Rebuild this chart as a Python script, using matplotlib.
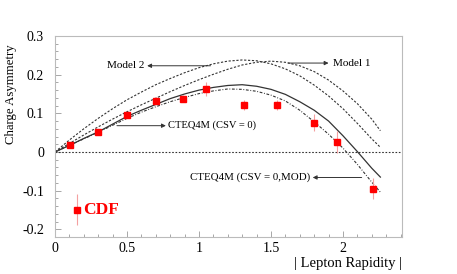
import numpy as np
import matplotlib
matplotlib.use('Agg')
import matplotlib.pyplot as plt
from matplotlib.ticker import MultipleLocator

plt.rcParams['font.family'] = ['Liberation Serif', 'DejaVu Serif']

# CDF data
cdf_x = [0.106, 0.30, 0.50, 0.70, 0.89, 1.05, 1.31, 1.54, 1.80, 1.956, 2.21]
cdf_y = [0.019, 0.052, 0.096, 0.133, 0.138, 0.163, 0.122, 0.122, 0.076, 0.026, -0.095]
cdf_err = [0.008, 0.007, 0.007, 0.008, 0.010, 0.017, 0.013, 0.013, 0.021, 0.028, 0.027]

# theory curves
curve_x = [0, 0.1, 0.2, 0.3, 0.4, 0.5, 0.6, 0.7, 0.8, 0.9, 1.0, 1.1, 1.2,
           1.3, 1.4, 1.5, 1.6, 1.7, 1.8, 1.9, 2.0, 2.1, 2.2, 2.26]
cteq = [0, 0.017, 0.035, 0.052, 0.072, 0.092, 0.108, 0.123, 0.138, 0.150,
        0.160, 0.167, 0.172, 0.174, 0.170, 0.162, 0.149, 0.130, 0.108, 0.080,
        0.042, 0.001, -0.042, -0.065]
cteq_mod = [0, 0.017, 0.034, 0.051, 0.069, 0.087, 0.103, 0.117, 0.130, 0.141,
            0.151, 0.158, 0.163, 0.162, 0.157, 0.147, 0.132, 0.108, 0.078, 0.046,
            0.010, -0.032, -0.078, -0.104]
model1 = [0, 0.022, 0.044, 0.065, 0.085, 0.104, 0.122, 0.139, 0.156, 0.172,
          0.187, 0.201, 0.214, 0.225, 0.232, 0.235, 0.232, 0.223, 0.208, 0.186,
          0.158, 0.125, 0.085, 0.055]
model2 = [0, 0.031, 0.060, 0.087, 0.112, 0.135, 0.155, 0.174, 0.190, 0.205,
          0.218, 0.228, 0.235, 0.238, 0.236, 0.228, 0.215, 0.197, 0.173, 0.145,
          0.112, 0.074, 0.034, 0.012]

y_ticks = [0.3, 0.2, 0.1, 0, -0.1, -0.2]
y_labels = ['0.3', '0.2', '0.1', '0', '-0.1', '-0.2']
x_ticks = [0, 0.5, 1, 1.5, 2]
x_labels = ['0', '0.5', '1', '1.5', '2']


def draw():
    fig = plt.figure(figsize=(4.57, 2.74), dpi=100)
    ax = fig.add_axes([0.1204, 0.135, 0.7592, 0.7336])
    lc = '#333333'

    ax.axhline(0, color=lc, lw=0.8, ls=(0, (1.5, 1.5)))
    ax.plot(curve_x, model1, color=lc, lw=0.8, ls=(0, (2, 1.5)))
    ax.plot(curve_x, model2, color=lc, lw=0.8, ls=(0, (2, 1.5)))
    ax.plot(curve_x, cteq, color=lc, lw=0.9)
    ax.plot(curve_x, cteq_mod, color=lc, lw=0.8, ls=(0, (2.5, 1.5, 0.8, 1.5)))

    ax.errorbar(cdf_x, cdf_y, yerr=cdf_err, fmt='s', color='red', ms=4,
                ecolor='#f4a0a0', elinewidth=0.8, capsize=0)
    # legend entry
    ax.errorbar([0.15], [-0.15], yerr=[0.04], fmt='s', color='red', ms=4,
                ecolor='#f4a0a0', elinewidth=0.8, capsize=0)
    ax.text(0.195, -0.15, 'CDF', color='red', fontsize=12.5, fontweight='bold',
            va='center', ha='left')

    ap = dict(arrowstyle='-|>', lw=0.7, color=lc, mutation_scale=6,
              shrinkA=0, shrinkB=0)
    ax.annotate('', xy=(0.64, 0.223), xytext=(1.08, 0.223), arrowprops=ap)
    ax.text(0.36, 0.223, 'Model 2', fontsize=8, va='center', ha='left')
    ax.annotate('', xy=(1.9, 0.23), xytext=(1.62, 0.23), arrowprops=ap)
    ax.text(1.93, 0.23, 'Model 1', fontsize=8, va='center', ha='left')
    ax.annotate('', xy=(0.77, 0.068), xytext=(0.43, 0.068), arrowprops=ap)
    ax.text(0.785, 0.068, 'CTEQ4M (CSV = 0)', fontsize=7.6, va='center', ha='left')
    ax.annotate('', xy=(1.79, -0.066), xytext=(2.13, -0.066), arrowprops=ap)
    ax.text(1.77, -0.066, 'CTEQ4M (CSV = 0,MOD)', fontsize=7.8, va='center', ha='right')

    ax.set_xlim(0, 2.41)
    ax.set_ylim(-0.22, 0.3)
    ax.set_xticks(x_ticks)
    ax.set_xticklabels(x_labels)
    ax.set_yticks(y_ticks)
    ax.set_yticklabels(y_labels)
    ax.xaxis.set_minor_locator(MultipleLocator(0.1))
    ax.yaxis.set_minor_locator(MultipleLocator(0.02))
    ax.tick_params(which='both', direction='in', color='#999999', labelsize=10,
                   top=False, right=False)
    ax.tick_params(which='major', length=4, width=0.6)
    ax.tick_params(which='minor', length=2.5, width=0.6)
    ax.tick_params(axis='y', which='major', pad=8)
    for s in ax.spines.values():
        s.set_color('#bbbbbb')
        s.set_linewidth(0.8)

    ax.set_ylabel('Charge Asymmetry', fontsize=9.2)
    ax.yaxis.set_label_coords(-0.11, 0.71)
    ax.set_xlabel('| Lepton Rapidity |', fontsize=10.5)
    ax.xaxis.set_label_coords(1.0, -0.1)
    ax.xaxis.label.set_horizontalalignment('right')
    fig.savefig('out.png', dpi=100)


def main():
    draw()


if __name__ == '__main__':
    main()
